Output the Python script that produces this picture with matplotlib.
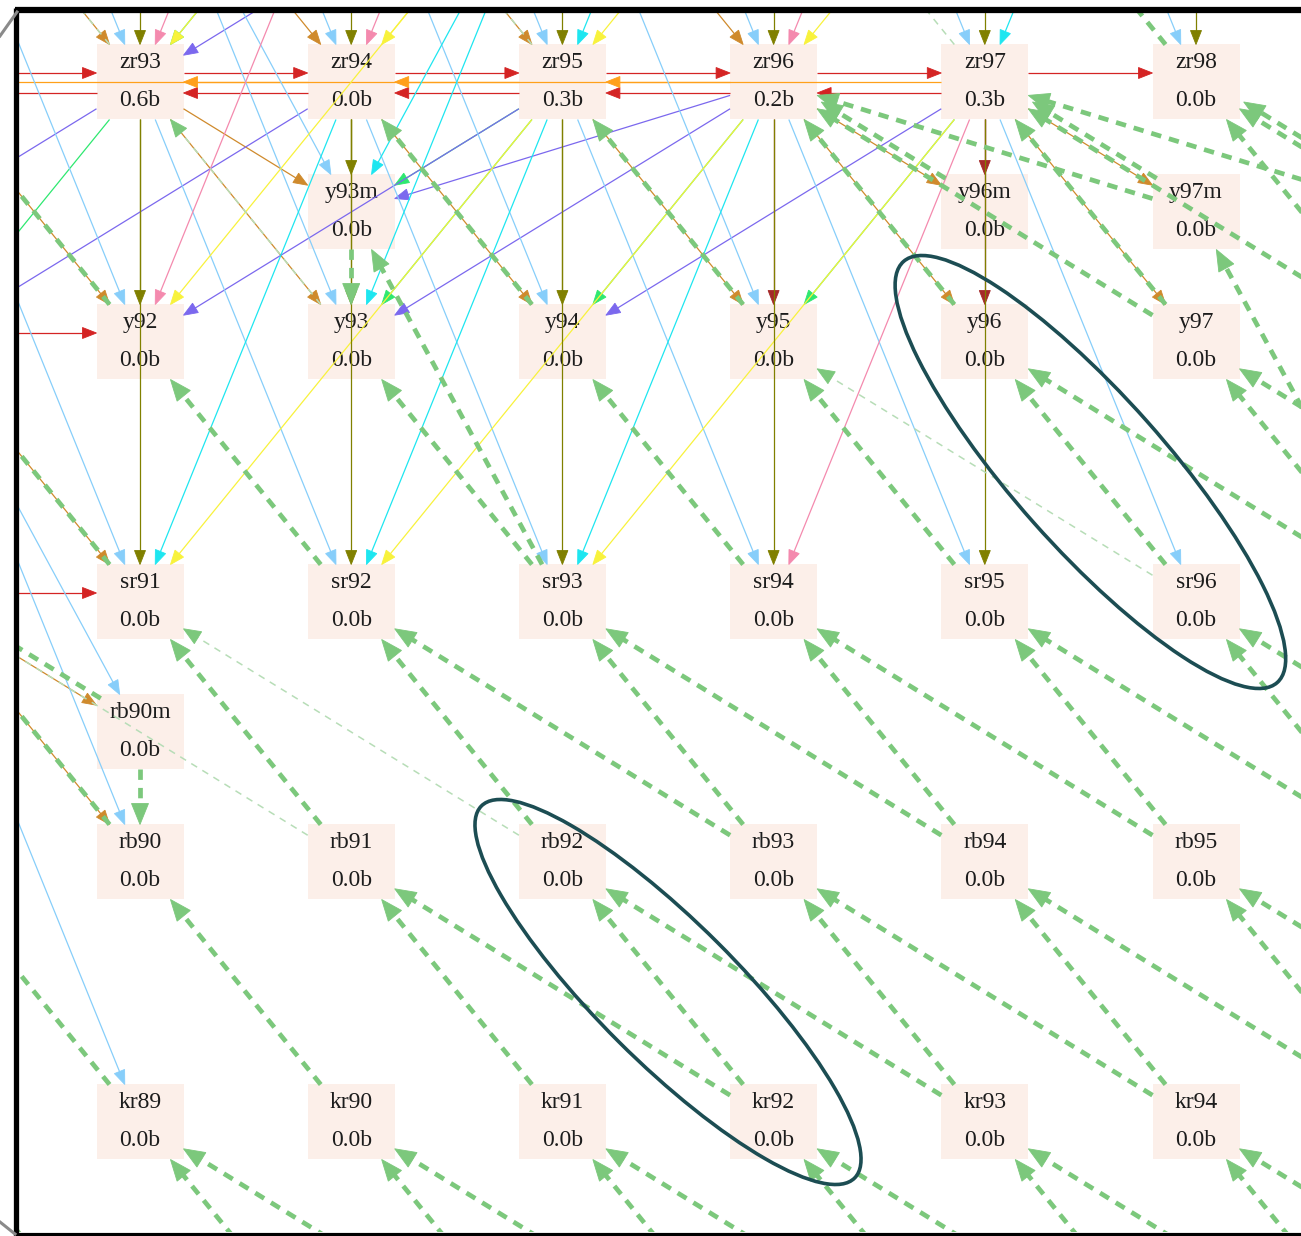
import re
import numpy as np
import matplotlib.pyplot as plt
from matplotlib.patches import Rectangle, Polygon, Ellipse

plt.rcParams["font.family"] = ["Liberation Serif", "DejaVu Serif"]

W, H = 1301, 1236

# ---------------- data ----------------
symbols = ["br", "kr", "rb", "sr", "y", "zr", "nb", "mo"]
z_numbers = [35, 36, 37, 38, 39, 40, 41, 42]
drawn_elements = ["kr", "rb", "sr", "y", "zr"]
neutron_range = (50, 62)
isomers = ["y93m", "y96m", "y97m", "y98m", "rb90m"]
cross_sections = {"zr93": "0.6b", "zr95": "0.3b", "zr96": "0.2b", "zr97": "0.3b"}

# decay data (thick dashed green)
zr_beta_sources = ["zr93", "zr95", "zr97", "zr98"]
isomer_decays = [("y96m", "zr96"), ("y97m", "zr97"), ("y97m", "zr96"),
                 ("y98m", "zr98"), ("y98m", "zr97"), ("rb90m", "sr90")]
isomeric_transitions = [("y93m", "y93"), ("rb90m", "rb90")]
beta_to_isomer = [("sr93", "y93m"), ("sr97", "y97m")]
beta_n_min_neutrons = {"br": 55, "kr": 56, "rb": 54, "sr": 58, "y": 58}
weak_decays = [("zr93", "nb93"), ("zr95", "nb95"), ("zr97", "nb97"), ("y93", "zr93"),
               ("rb91", "sr90"), ("rb92", "sr91"), ("sr96", "y95")]

# neutron reactions (thin coloured): name, (dZ, dN), sources
reaction_names = ["n,g", "n,2n", "n,3n", "n,p", "n,d", "n,np", "n,t", "n,dn",
                  "n,2p", "n,a", "n,na", "n,2a", "n,pt"]
reaction_shifts = [(0, 1), (0, -1), (0, -2), (-1, 1), (-1, 0), (-1, 0), (-1, -1), (-1, -2),
                   (-2, 1), (-2, -1), (-2, -1), (-2, -2), (-2, 0)]
reaction_sources = [
    ["zr92", "zr93", "zr94", "zr95", "zr96", "zr97", "y91", "sr90"],
    ["zr93", "zr94", "zr95", "zr96", "zr97"],
    ["zr94", "zr95", "zr96", "zr97"],
    ["zr92", "zr93", "zr94", "zr95", "zr96", "zr97", "y91", "sr90", "nb93", "nb94", "nb95", "nb96"],
    ["zr93", "zr94", "zr95", "nb94", "nb95", "nb96", "nb97", "nb98", "nb99"],
    ["zr96", "zr97"],
    ["zr93", "zr95", "zr96", "zr97", "nb95"],
    ["zr93", "zr94", "zr95", "zr96", "zr97", "nb96"],
    ["zr92", "zr93", "zr94", "zr95", "zr96", "zr97", "y91", "sr90",
     "nb93", "nb94", "nb95", "nb96", "mo94", "mo95", "mo96", "mo97", "mo98", "mo99"],
    ["zr94", "zr95", "zr96", "nb96", "mo98", "mo100"],
    ["zr97", "nb95", "mo96", "mo97", "mo99"],
    ["zr95", "zr96", "zr97", "nb96", "mo97", "mo98", "mo99", "mo100"],
    ["zr93", "zr94", "zr95", "zr96", "zr97"],
]

highlight_pairs = [("y96", "sr96"), ("rb92", "kr92")]

# ---------------- style / layout ----------------
reaction_colors = ["#d42424", "#d42424", "#ffa01a", "#cf8a2c", "#808000", "#a52a2a",
                   "#2ee870", "#7b68ee", "#87cefa", "#1ee6f0", "#f48aae", "#f8f23c", "#808000"]
reaction_offsets = {"n,g": -9, "n,2n": 11, "n,3n": 0}
ring_pad = [228, 192]
ring_width = [152, 140]
ring_tilt = [-2.5, -6.0]
X0, DX, Y0, DY = 140.0, 211.2, 82.0, 260.0
HW, HH = 43.5, 37.5
BOX = "#fcefe9"
GREEN = "#7cc87c"
FAINT = "#b7ddb7"
RING = "#1c4d53"

z_of = dict(zip(symbols, z_numbers))
sym_of = dict(zip(z_numbers, symbols))


def parse(name):
    m = re.match(r"([a-z]+)(\d+)(m?)$", name)
    Z = z_of[m.group(1)]
    return m.group(1), Z, int(m.group(2)) - Z, m.group(3) == "m"


def name_of(Z, N, iso=False):
    return f"{sym_of[Z]}{Z + N}" + ("m" if iso else "")


def pos(name):
    sym, Z, N, iso = parse(name)
    return X0 + DX * (N - 53), Y0 + DY * (40 - Z) - (DY / 2 if iso else 0)


def exit_dist(u):
    tx = HW / abs(u[0]) if abs(u[0]) > 1e-9 else np.inf
    ty = HH / abs(u[1]) if abs(u[1]) > 1e-9 else np.inf
    return min(tx, ty)


def edge(ax, a, b, color, lw, ls="-", head=(14, 5.5), hcolor=None, offset=0.0, side=0.0, z=2):
    x0, y0 = pos(a)
    x1, y1 = pos(b)
    p = np.array([x0, y0 + offset])
    q = np.array([x1, y1 + offset])
    d = q - p
    u = d / np.hypot(*d)
    perp = np.array([-u[1], u[0]])
    t = exit_dist(u)
    start = p + u * t + perp * side
    tip = q - u * t + perp * side
    hl, hw = head
    base = tip - u * hl
    ax.plot([start[0], base[0] + u[0]], [start[1], base[1] + u[1]], color=color, lw=lw,
            ls=ls, solid_capstyle="butt", dash_capstyle="butt", zorder=z)
    hc = hcolor or color
    ax.add_patch(Polygon([tip, base + perp * hw, base - perp * hw], closed=True,
                         fc=hc, ec=hc, lw=0.6, zorder=z))


fig = plt.figure(figsize=(W / 100, H / 100), dpi=100)
fig.patch.set_facecolor("white")
left, top, bottom = 18.5, 13.0, 1232.0
ax = fig.add_axes([left / W, 1 - bottom / H, (W - left) / W, (bottom - top) / H])
ax.set_xlim(left, W)
ax.set_ylim(bottom, top)
ax.axis("off")

# nodes (only those that fall inside the view)
node_names = []
for sym in drawn_elements:
    Z = z_of[sym]
    for N in range(neutron_range[0], neutron_range[1] + 1):
        node_names.append(name_of(Z, N))
node_names += isomers
for nm in node_names:
    x, y = pos(nm)
    if x + HW < left or x - HW > W or y + HH < top or y - HH > bottom:
        continue
    ax.add_patch(Rectangle((x - HW, y - HH), 2 * HW, 2 * HH, fc=BOX, ec="none", zorder=1))
    ax.text(x, y - 19, nm, ha="center", va="center", fontsize=17, color="#1c1c1c", zorder=1.5)
    ax.text(x, y + 19, cross_sections.get(nm, "0.0b"), ha="center", va="center",
            fontsize=17, color="#1c1c1c", zorder=1.5)

# thin reaction edges
for rname, (dz, dn), srcs, col in zip(reaction_names, reaction_shifts, reaction_sources, reaction_colors):
    off = reaction_offsets.get(rname, 0.0)
    for s in srcs:
        _, Z, N, _ = parse(s)
        tg = name_of(Z + dz, N + dn)
        targets = [tg] + ([tg + "m"] if tg + "m" in isomers else [])
        for t in targets:
            edge(ax, s, t, col, 0.9, head=(14, 5.5), offset=off, z=2)

# decays
thick = dict(lw=3.4, ls=(0, (2.2, 1.7)), head=(21, 8.5), z=3)
weak = set(weak_decays)
seen = {}


def decay(a, b):
    (xa, ya), (xb, yb) = pos(a), pos(b)
    key = (b, round(float(np.degrees(np.arctan2(yb - ya, xb - xa))), 1))
    n = seen.get(key, 0)
    seen[key] = n + 1
    side = 8.0 * n
    if (a, b) in weak:
        edge(ax, a, b, FAINT, 1.1, ls=(0, (4.5, 4.0)), head=(17, 7), hcolor=GREEN, side=side, z=3)
    else:
        edge(ax, a, b, GREEN, side=side, **thick)


for sym in ["br", "kr", "rb", "sr", "y"]:
    Z = z_of[sym]
    for N in range(51, neutron_range[1] + 2):
        decay(name_of(Z, N), name_of(Z + 1, N - 1))
        if N >= beta_n_min_neutrons[sym]:
            decay(name_of(Z, N), name_of(Z + 1, N - 2))
for s in zr_beta_sources:
    _, Z, N, _ = parse(s)
    decay(s, name_of(Z + 1, N - 1))
for a, b in isomer_decays + isomeric_transitions + beta_to_isomer:
    decay(a, b)

# highlight rings
for (a, b), pad, wid, tilt in zip(highlight_pairs, ring_pad, ring_width, ring_tilt):
    (xa, ya), (xb, yb) = pos(a), pos(b)
    ang = np.degrees(np.arctan2(yb - ya, xb - xa))
    dist = np.hypot(xb - xa, yb - ya)
    ax.add_patch(Ellipse(((xa + xb) / 2, (ya + yb) / 2), dist + pad, wid, angle=ang + tilt,
                         fill=False, ec=RING, lw=2.6, zorder=5))

# frame
fr = fig.add_axes([0, 0, 1, 1], facecolor="none")
fr.set_xlim(0, W)
fr.set_ylim(H, 0)
fr.axis("off")
fr.plot([15, W], [10, 10], color="black", lw=4.5, solid_capstyle="butt")
fr.plot([16, 16], [8, H], color="black", lw=3.8, solid_capstyle="butt")
fr.plot([15, W], [1234.5, 1234.5], color="black", lw=3.0, solid_capstyle="butt")
fr.plot([0, 17], [36, 12], color="#8a8a8a", lw=2.2)
fr.plot([0, 15], [1222, 1234], color="#8a8a8a", lw=2.2)

fig.savefig("out.png", dpi=100, facecolor="white")
